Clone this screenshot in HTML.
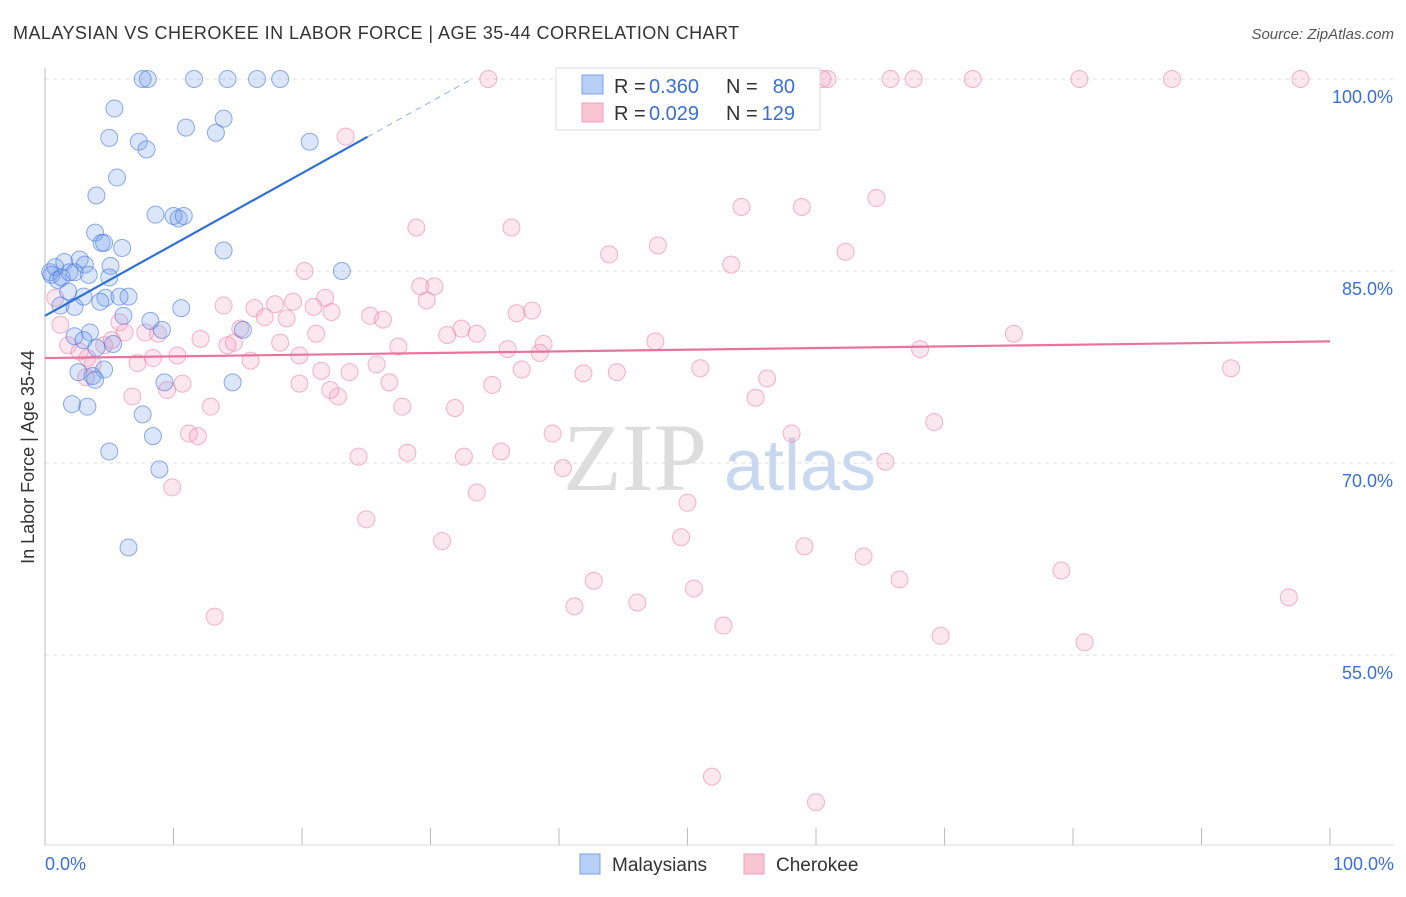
<!DOCTYPE html>
<html><head><meta charset="utf-8"><style>
html,body{margin:0;padding:0;background:#fff;}
body{width:1406px;height:892px;overflow:hidden;font-family:"Liberation Sans",sans-serif;}
</style></head><body>
<svg id="chart" width="1406" height="892" xmlns="http://www.w3.org/2000/svg" font-family="Liberation Sans, sans-serif">
<text x="13" y="39" font-size="18" fill="#333" letter-spacing="0.45">MALAYSIAN VS CHEROKEE IN LABOR FORCE | AGE 35-44 CORRELATION CHART</text>
<text x="1394" y="39" font-size="15" fill="#555" font-style="italic" text-anchor="end">Source: ZipAtlas.com</text>
<text transform="translate(34,457) rotate(-90)" font-size="18" fill="#333" text-anchor="middle">In Labor Force | Age 35-44</text>
<g id="grid"></g>
<g id="watermark">
<text x="635" y="490" font-size="96" fill="#ddd" font-family="Liberation Serif, serif" text-anchor="middle">ZIP</text>
<text x="800" y="490" font-size="72" fill="#c8d8f0" text-anchor="middle">atlas</text>
</g>
<g id="marks"></g>
<g id="legend">
<rect x="556" y="68" width="264" height="62" fill="#fff" stroke="#ddd"/>
<rect x="582" y="75" width="21" height="19" fill="#b7cef5" stroke="#7ea3e8"/>
<rect x="582" y="103" width="21" height="19" fill="#f9c5d5" stroke="#f0a0bc"/>
<text x="614" y="93" font-size="20" fill="#333">R =</text>
<text x="649" y="93" font-size="20" fill="#3a6fd8">0.360</text>
<text x="726" y="93" font-size="20" fill="#333">N =</text>
<text x="795" y="93" font-size="20" fill="#3a6fd8" text-anchor="end">80</text>
<text x="614" y="120" font-size="20" fill="#333">R =</text>
<text x="649" y="120" font-size="20" fill="#3a6fd8">0.029</text>
<text x="726" y="120" font-size="20" fill="#333">N =</text>
<text x="795" y="120" font-size="20" fill="#3a6fd8" text-anchor="end">129</text>
</g>
<g id="bottom-legend">
<rect x="580" y="854" width="20" height="20" fill="#b7cef5" stroke="#7ea3e8"/>
<text x="612" y="871" font-size="19" fill="#333">Malaysians</text>
<rect x="744" y="854" width="20" height="20" fill="#f9c5d5" stroke="#f0a0bc"/>
<text x="776" y="871" font-size="19" fill="#333">Cherokee</text>
</g>
</svg>
<script>
const yTicks=[100,85,70,55];
const yTickLabels=["100.0%","85.0%","70.0%","55.0%"];
const xTickLabels=["0.0%","100.0%"];
const malX=[7.6,8.0,11.6,14.2,16.5,18.3,5.4,13.9,5.0,7.3,7.9,10.97,13.3,20.6,5.6,4.0,8.6,10.0,10.4,10.8,3.9,4.4,4.6,6.0,13.9,23.1,0.8,1.5,2.7,3.1,0.4,0.5,1.0,1.3,1.9,2.3,3.4,5.1,5.0,1.8,3.0,4.7,5.8,6.5,4.3,1.2,2.3,10.6,8.2,6.1,9.1,15.4,3.5,2.3,3.0,5.3,4.0,2.6,4.6,3.7,3.9,9.3,14.6,2.1,3.3,7.6,8.4,5.0,8.9,6.5];
const malY=[100,100,100,100,100,100,97.7,96.9,95.4,95.1,94.5,96.2,95.8,95.1,92.3,90.9,89.4,89.3,89.1,89.3,88.0,87.2,87.2,86.8,86.6,85.0,85.3,85.7,85.9,85.5,84.9,84.7,84.3,84.5,84.9,84.9,84.7,85.4,84.5,83.4,83.0,82.9,83.0,83.0,82.6,82.3,82.2,82.1,81.1,81.5,80.4,80.4,80.2,79.9,79.6,79.3,79.0,77.1,77.3,76.8,76.5,76.3,76.3,74.6,74.4,73.8,72.1,70.9,69.5,63.4];
const cheX=[34.5,51.9,52.3,60.5,60.9,65.8,67.6,72.2,80.5,87.7,97.7,23.4,54.2,58.9,64.7,28.9,36.3,47.7,43.9,62.3,53.4,20.2,29.2,30.3,29.7,21.8,19.3,17.9,16.3,17.1,20.9,13.9,22.3,25.3,26.3,36.7,37.9,32.4,33.6,31.3,21.1,47.5,75.4,68.1,27.5,36.0,38.8,38.5,25.8,23.7,21.5,41.9,44.5,51.0,37.1,26.8,34.8,56.2,92.3,27.8,31.9,22.8,55.3,69.2,39.5,58.1,65.4,24.4,28.2,32.6,35.5,40.3,33.6,50.0,25.0,30.9,49.5,59.1,63.7,42.7,41.2,46.1,50.5,52.8,66.5,79.1,96.8,69.7,80.9,51.9,60.0,13.2,0.8,1.2,1.8,2.7,3.3,3.7,4.6,5.2,5.8,6.2,7.2,7.8,8.4,8.8,10.3,9.5,10.7,12.9,11.2,11.9,6.8,9.9,12.1,14.2,14.7,16.0,18.3,18.8,19.8,15.2,3.2,19.8,22.2];
const cheY=[100,100,100,100,100,100,100,100,100,100,100,95.5,90.0,90.0,90.7,88.4,88.4,87.0,86.3,86.5,85.5,85.0,83.8,83.8,82.7,82.9,82.6,82.4,82.1,81.4,82.2,82.3,81.8,81.5,81.2,81.7,81.9,80.5,80.1,80.0,80.1,79.5,80.1,78.9,79.1,78.9,79.3,78.6,77.7,77.1,77.2,77.0,77.1,77.4,77.3,76.3,76.1,76.6,77.4,74.4,74.3,75.2,75.1,73.2,72.3,72.3,70.1,70.5,70.8,70.5,70.9,69.6,67.7,66.9,65.6,63.9,64.2,63.5,62.7,60.8,58.8,59.1,60.2,57.3,60.9,61.6,59.5,56.5,56.0,45.5,43.5,58.0,82.9,80.8,79.2,78.7,78.2,77.7,79.2,79.6,81.0,80.2,77.8,80.2,78.2,80.1,78.4,75.7,76.2,74.4,72.3,72.1,75.2,68.1,79.7,79.2,79.4,78.0,79.4,81.3,76.2,80.5,76.7,78.4,75.7];
const malTrend=[81.5,0.557];
const cheTrend=[78.2,0.013];

const NS="http://www.w3.org/2000/svg";
const X0=45,X1=1330,YTOP=79,PX_PER=12.8;
const sx=v=>X0+(X1-X0)*v/100;
const sy=v=>YTOP+(100-v)*PX_PER;
function mk(tag,attrs,parent){const e=document.createElementNS(NS,tag);for(const k in attrs)e.setAttribute(k,attrs[k]);parent.appendChild(e);return e;}
const grid=document.getElementById('grid');
yTicks.forEach((t,i)=>{
  const l=mk('line',{x1:X0,x2:1394,y1:sy(t),y2:sy(t),stroke:'#ddd','stroke-dasharray':'4,4'},grid);
  
  
  const tx=mk('text',{x:1393,y:sy(t)+24,'font-size':18,fill:'#3a6fd8','text-anchor':'end'},grid);
  tx.textContent=yTickLabels[i];
  
  
});
const ax=mk('line',{x1:X0,x2:X0,y1:68,y2:845,stroke:'#bbb'},grid);


const bx=mk('line',{x1:X0,x2:1394,y1:845,y2:845,stroke:'#ddd'},grid);


for(let i=0;i<=10;i++){
  const tk=mk('line',{x1:sx(i*10),x2:sx(i*10),y1:828,y2:845,stroke:'#bbb'},grid);
  
  
}
[[0,'start',45],[100,'end',1394]].forEach((a,i)=>{
  const tx=mk('text',{x:a[2],y:870,'font-size':18,fill:'#3a6fd8','text-anchor':a[1]},grid);
  tx.textContent=xTickLabels[i];
  
  
});
const marks=document.getElementById('marks');
function pts(xs,ys,fill,stroke,name){
  xs.forEach((x,i)=>{
    const c=mk('circle',{cx:sx(x),cy:sy(ys[i]),r:8.5,fill:fill,stroke:stroke,'stroke-width':1},marks);
    
    
  });
}
pts(cheX,cheY,'rgba(244,160,190,0.25)','rgba(236,130,168,0.6)','cherokee-point');
pts(malX,malY,'rgba(110,155,235,0.25)','rgba(70,120,220,0.6)','malaysian-point');
const mEnd=25.1;
const l1=mk('line',{x1:sx(0),y1:sy(malTrend[0]),x2:sx(mEnd),y2:sy(malTrend[0]+malTrend[1]*mEnd),stroke:'#2f6fd8','stroke-width':2.2},marks);


const dEnd=(100-malTrend[0])/malTrend[1];
const l2=mk('line',{x1:sx(mEnd),y1:sy(malTrend[0]+malTrend[1]*mEnd),x2:sx(dEnd),y2:sy(100),stroke:'#8fb0e8','stroke-width':1,'stroke-dasharray':'6,5'},marks);


const l3=mk('line',{x1:sx(0),y1:sy(cheTrend[0]),x2:sx(100),y2:sy(cheTrend[0]+cheTrend[1]*100),stroke:'#e8739c','stroke-width':2.2},marks);


</script>
</body></html>
